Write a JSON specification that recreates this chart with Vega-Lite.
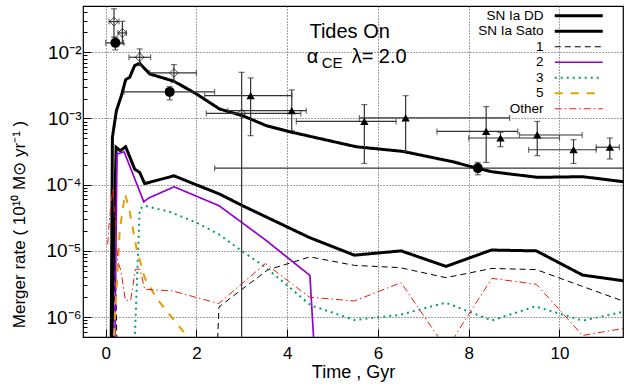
{
  "$schema": "https://vega.github.io/schema/vega-lite/v6.json",
  "width": 540,
  "height": 331,
  "autosize": {"type": "none"},
  "padding": {"left": 83, "top": 6, "right": 5, "bottom": 53},
  "background": "white",
  "config": {
    "font": "Liberation Sans",
    "view": {"stroke": "black", "strokeWidth": 1.2},
    "axis": {"labelFont": "Liberation Sans", "titleFont": "Liberation Sans", "labelColor": "black", "titleColor": "black", "titleFontWeight": "normal", "domain": false, "gridColor": "#444", "gridDash": [1, 2], "gridWidth": 1, "tickColor": "black", "labelOverlap": false},
    "legend": {"labelFont": "Liberation Sans", "labelColor": "black"}
  },
  "datasets": {
    "lines": [
      {"series": "SN Ia DD", "t": 0.12, "rate": 3e-7},
      {"series": "SN Ia DD", "t": 0.148, "rate": 5.2e-4},
      {"series": "SN Ia DD", "t": 0.236, "rate": 1.31e-3},
      {"series": "SN Ia DD", "t": 0.346, "rate": 2.21e-3},
      {"series": "SN Ia DD", "t": 0.44, "rate": 3.86e-3},
      {"series": "SN Ia DD", "t": 0.529, "rate": 4.19e-3},
      {"series": "SN Ia DD", "t": 0.639, "rate": 6.3e-3},
      {"series": "SN Ia DD", "t": 0.749, "rate": 6.82e-3},
      {"series": "SN Ia DD", "t": 0.969, "rate": 4.71e-3},
      {"series": "SN Ia DD", "t": 1.5, "rate": 3.66e-3},
      {"series": "SN Ia DD", "t": 1.99, "rate": 2.37e-3},
      {"series": "SN Ia DD", "t": 2.51, "rate": 1.39e-3},
      {"series": "SN Ia DD", "t": 3.02, "rate": 1.1e-3},
      {"series": "SN Ia DD", "t": 3.54, "rate": 7.78e-4},
      {"series": "SN Ia DD", "t": 4.05, "rate": 6.31e-4},
      {"series": "SN Ia DD", "t": 5.52, "rate": 3.74e-4},
      {"series": "SN Ia DD", "t": 6.55, "rate": 3.18e-4},
      {"series": "SN Ia DD", "t": 7.65, "rate": 2.22e-4},
      {"series": "SN Ia DD", "t": 8.17, "rate": 1.78e-4},
      {"series": "SN Ia DD", "t": 8.53, "rate": 1.56e-4},
      {"series": "SN Ia DD", "t": 9.52, "rate": 1.29e-4},
      {"series": "SN Ia DD", "t": 10.51, "rate": 1.32e-4},
      {"series": "SN Ia DD", "t": 11.5, "rate": 1.09e-4},
      {"series": "SN Ia Sato", "t": 0.13, "rate": 3e-7},
      {"series": "SN Ia Sato", "t": 0.23, "rate": 3.66e-4},
      {"series": "SN Ia Sato", "t": 0.324, "rate": 3.26e-4},
      {"series": "SN Ia Sato", "t": 0.44, "rate": 3.74e-4},
      {"series": "SN Ia Sato", "t": 0.639, "rate": 1.72e-4},
      {"series": "SN Ia Sato", "t": 0.749, "rate": 1.53e-4},
      {"series": "SN Ia Sato", "t": 0.859, "rate": 1.04e-4},
      {"series": "SN Ia Sato", "t": 1.504, "rate": 1.36e-4},
      {"series": "SN Ia Sato", "t": 2.51, "rate": 7.21e-5},
      {"series": "SN Ia Sato", "t": 3.02, "rate": 4.8e-5},
      {"series": "SN Ia Sato", "t": 4.49, "rate": 1.59e-5},
      {"series": "SN Ia Sato", "t": 5.48, "rate": 8.61e-6},
      {"series": "SN Ia Sato", "t": 6.51, "rate": 1.0e-5},
      {"series": "SN Ia Sato", "t": 7.5, "rate": 5.83e-6},
      {"series": "SN Ia Sato", "t": 8.5, "rate": 1.03e-5},
      {"series": "SN Ia Sato", "t": 9.49, "rate": 1.0e-5},
      {"series": "SN Ia Sato", "t": 10.51, "rate": 4.31e-6},
      {"series": "SN Ia Sato", "t": 11.5, "rate": 3.46e-6},
      {"series": "1", "t": 0.17, "rate": 3e-7},
      {"series": "1", "t": 0.21, "rate": 1.1e-5},
      {"series": "1", "t": 0.25, "rate": 3e-7},
      {"series": "1", "t": 2.456, "rate": 3e-7},
      {"series": "1", "t": 2.496, "rate": 1.42e-6},
      {"series": "1", "t": 2.985, "rate": 2.57e-6},
      {"series": "1", "t": 3.57, "rate": 5.15e-6},
      {"series": "1", "t": 4.5, "rate": 8.11e-6},
      {"series": "1", "t": 5.48, "rate": 6.04e-6},
      {"series": "1", "t": 6.48, "rate": 5.59e-6},
      {"series": "1", "t": 7.5, "rate": 3.94e-6},
      {"series": "1", "t": 8.51, "rate": 5.43e-6},
      {"series": "1", "t": 9.49, "rate": 5.21e-6},
      {"series": "1", "t": 10.51, "rate": 2.9e-6},
      {"series": "1", "t": 11.5, "rate": 1.65e-6},
      {"series": "2", "t": 0.2, "rate": 3e-7},
      {"series": "2", "t": 0.249, "rate": 2.9e-4},
      {"series": "2", "t": 0.407, "rate": 3.13e-4},
      {"series": "2", "t": 0.84, "rate": 5.5e-5},
      {"series": "2", "t": 0.95, "rate": 6.3e-5},
      {"series": "2", "t": 1.509, "rate": 9.29e-5},
      {"series": "2", "t": 2.5, "rate": 4.8e-5},
      {"series": "2", "t": 3.5, "rate": 1.5e-5},
      {"series": "2", "t": 4.5, "rate": 4.26e-6},
      {"series": "2", "t": 4.6, "rate": 3e-7},
      {"series": "3", "t": 0.63, "rate": 3e-7},
      {"series": "3", "t": 0.75, "rate": 4.3e-5},
      {"series": "3", "t": 0.86, "rate": 4.8e-5},
      {"series": "3", "t": 1.41, "rate": 3.89e-5},
      {"series": "3", "t": 2.0, "rate": 2.68e-5},
      {"series": "3", "t": 2.51, "rate": 1.75e-5},
      {"series": "3", "t": 2.97, "rate": 1.03e-5},
      {"series": "3", "t": 3.48, "rate": 5.93e-6},
      {"series": "3", "t": 3.99, "rate": 3.06e-6},
      {"series": "3", "t": 4.52, "rate": 1.5e-6},
      {"series": "3", "t": 5.11, "rate": 1.1e-6},
      {"series": "3", "t": 5.48, "rate": 9.03e-7},
      {"series": "3", "t": 6.48, "rate": 1.08e-6},
      {"series": "3", "t": 7.49, "rate": 1.65e-6},
      {"series": "3", "t": 8.51, "rate": 8.89e-7},
      {"series": "3", "t": 9.47, "rate": 1.45e-6},
      {"series": "3", "t": 10.51, "rate": 8.83e-7},
      {"series": "3", "t": 11.5, "rate": 1.24e-6},
      {"series": "5", "t": 0.165, "rate": 3e-7},
      {"series": "5", "t": 0.308, "rate": 2.0e-5},
      {"series": "5", "t": 0.425, "rate": 7.27e-5},
      {"series": "5", "t": 0.518, "rate": 4.31e-5},
      {"series": "5", "t": 0.676, "rate": 1.12e-5},
      {"series": "5", "t": 0.859, "rate": 3.91e-6},
      {"series": "5", "t": 1.117, "rate": 1.94e-6},
      {"series": "5", "t": 1.41, "rate": 1.08e-6},
      {"series": "5", "t": 1.81, "rate": 5.0e-7},
      {"series": "5", "t": 1.9, "rate": 3e-7},
      {"series": "Other", "t": 0.044, "rate": 1.26e-5},
      {"series": "Other", "t": 0.081, "rate": 2.85e-5},
      {"series": "Other", "t": 0.154, "rate": 8.67e-5},
      {"series": "Other", "t": 0.22, "rate": 2.39e-5},
      {"series": "Other", "t": 0.264, "rate": 7.06e-6},
      {"series": "Other", "t": 0.337, "rate": 4.98e-6},
      {"series": "Other", "t": 0.434, "rate": 1.79e-6},
      {"series": "Other", "t": 0.551, "rate": 1.79e-6},
      {"series": "Other", "t": 0.654, "rate": 5.28e-6},
      {"series": "Other", "t": 0.756, "rate": 5.28e-6},
      {"series": "Other", "t": 0.859, "rate": 2.63e-6},
      {"series": "Other", "t": 1.476, "rate": 2.48e-6},
      {"series": "Other", "t": 2.49, "rate": 1.6e-6},
      {"series": "Other", "t": 3.52, "rate": 6.43e-6},
      {"series": "Other", "t": 4.49, "rate": 2.0e-6},
      {"series": "Other", "t": 5.48, "rate": 1.75e-6},
      {"series": "Other", "t": 6.51, "rate": 3.31e-6},
      {"series": "Other", "t": 7.51, "rate": 3.28e-7},
      {"series": "Other", "t": 8.51, "rate": 3.84e-6},
      {"series": "Other", "t": 9.49, "rate": 3.13e-6},
      {"series": "Other", "t": 10.51, "rate": 5.27e-7},
      {"series": "Other", "t": 11.5, "rate": 6.92e-7}
    ],
    "obs": [
      {"kind": "diamond", "t": 0.183, "rate": 0.0291, "tlo": 0.073, "thi": 0.293, "rlo": 0.0169, "rhi": 0.0454},
      {"kind": "diamond", "t": 0.368, "rate": 0.0196, "tlo": 0.271, "thi": 0.456, "rlo": 0.0134, "rhi": 0.0294},
      {"kind": "diamond", "t": 0.749, "rate": 0.0084, "tlo": 0.513, "thi": 0.991, "rlo": 0.0063, "rhi": 0.01125},
      {"kind": "diamond", "t": 1.504, "rate": 0.00488, "tlo": 0.969, "thi": 1.998, "rlo": 0.00352, "rhi": 0.00652},
      {"kind": "diamond", "t": 2.996, "rate": 0.00119, "tlo": 2.218, "thi": 4.3, "rlo": 1e-7, "rhi": 0.00498},
      {"kind": "circle", "t": 0.214, "rate": 0.01387, "tlo": 0.0, "thi": 0.396, "rlo": 0.01087, "rhi": 0.0169},
      {"kind": "circle", "t": 1.41, "rate": 0.00252, "tlo": 0.403, "thi": 2.4, "rlo": 0.00191, "rhi": 0.00303},
      {"kind": "circle", "t": 8.2, "rate": 1.78e-4, "tlo": 2.4, "thi": 13, "rlo": 1.41e-4, "rhi": 2.17e-4},
      {"kind": "triangle", "t": 3.194, "rate": 0.00221, "tlo": 2.18, "thi": 4.1, "rlo": 5.5e-4, "rhi": 0.0041},
      {"kind": "triangle", "t": 4.1, "rate": 0.00131, "tlo": 2.69, "thi": 4.42, "rlo": 6.53e-4, "rhi": 0.0027},
      {"kind": "triangle", "t": 5.7, "rate": 9.03e-4, "tlo": 4.2, "thi": 6.4, "rlo": 2.09e-4, "rhi": 0.00162},
      {"kind": "triangle", "t": 6.61, "rate": 0.00102, "tlo": 5.59, "thi": 8.9, "rlo": 3.18e-4, "rhi": 0.00221},
      {"kind": "triangle", "t": 8.385, "rate": 6.38e-4, "tlo": 7.3, "thi": 9.08, "rlo": 2.17e-4, "rhi": 0.00151},
      {"kind": "triangle", "t": 8.7, "rate": 5.07e-4, "tlo": 8.0, "thi": 10.0, "rlo": 3.74e-4, "rhi": 6.17e-4},
      {"kind": "triangle", "t": 9.51, "rate": 5.63e-4, "tlo": 9.12, "thi": 10.5, "rlo": 2.74e-4, "rhi": 9.03e-4},
      {"kind": "triangle", "t": 10.31, "rate": 3.37e-4, "tlo": 9.32, "thi": 10.81, "rlo": 2.09e-4, "rhi": 4.78e-4},
      {"kind": "triangle", "t": 11.11, "rate": 3.68e-4, "tlo": 10.81, "thi": 11.32, "rlo": 2.44e-4, "rhi": 5.07e-4}
    ],
    "big": [
      {"t": 4.49, "rate": 0.01626, "label": "Tides On"},
      {"t": 4.43, "rate": 0.00681, "label": "α"},
      {"t": 5.42, "rate": 0.00681, "label": "λ= 2.0"}
    ],
    "small": [
      {"t": 4.76, "rate": 0.00573, "label": "CE"}
    ]
  },
  "layer": [
    {
      "data": {"name": "lines"},
      "mark": {"type": "line", "clip": true, "strokeCap": "butt", "strokeJoin": "miter"},
      "encoding": {
        "x": {"field": "t", "type": "quantitative", "scale": {"domain": [-0.5, 11.4], "nice": false, "zero": false},
          "axis": {"values": [0, 2, 4, 6, 8, 10], "grid": true, "tickSize": -8, "labelFontSize": 17, "labelPadding": 16, "title": "Time , Gyr", "titleFontSize": 18, "titlePadding": 2}},
        "y": {"field": "rate", "type": "quantitative", "scale": {"type": "log", "domain": [5e-7, 0.05], "nice": false},
          "axis": {
            "values": [6e-7, 7e-7, 8e-7, 9e-7, 1e-6, 2e-6, 3e-6, 4e-6, 5e-6, 6e-6, 7e-6, 8e-6, 9e-6, 1e-5, 2e-5, 3e-5, 4e-5, 5e-5, 6e-5, 7e-5, 8e-5, 9e-5, 1e-4, 2e-4, 3e-4, 4e-4, 5e-4, 6e-4, 7e-4, 8e-4, 9e-4, 1e-3, 2e-3, 3e-3, 4e-3, 5e-3, 6e-3, 7e-3, 8e-3, 9e-3, 1e-2, 2e-2, 3e-2, 4e-2],
            "labelExpr": "datum.value == 1e-6 ? '10⁻⁶' : datum.value == 1e-5 ? '10⁻⁵' : datum.value == 1e-4 ? '10⁻⁴' : datum.value == 1e-3 ? '10⁻³' : datum.value == 1e-2 ? '10⁻²' : ''",
            "grid": true,
            "gridOpacity": {"condition": {"test": "abs(log(datum.value)/LN10 - round(log(datum.value)/LN10)) < 0.001", "value": 1}, "value": 0},
            "tickSize": {"condition": {"test": "abs(log(datum.value)/LN10 - round(log(datum.value)/LN10)) < 0.001", "value": -8}, "value": -4},
            "labelFontSize": 19, "labelPadding": 10,
            "title": "Merger rate ( 10¹⁰ M⊙ yr⁻¹ )", "titleFontSize": 17, "titleX": -59, "titleY": 218, "titleBaseline": "alphabetic", "titleAlign": "center"
          }},
        "color": {"field": "series", "type": "nominal",
          "scale": {"domain": ["SN Ia DD", "SN Ia Sato", "1", "2", "3", "5", "Other"], "range": ["#000000", "#000000", "#000000", "#9400d3", "#009e73", "#e69f00", "#e51e10"]},
          "legend": {"title": null, "orient": "none", "legendX": 489, "legendY": 3, "symbolType": "stroke", "symbolSize": 2304, "labelAlign": "right", "labelOffset": -42, "labelFontSize": 13.5, "rowPadding": 0.5, "padding": 0, "labelLimit": 200,
            "symbolStrokeWidth": {"expr": "datum.value == 'SN Ia DD' || datum.value == 'SN Ia Sato' ? 3 : datum.value == '3' ? 2 : datum.value == '5' ? 2 : datum.value == '2' ? 1.7 : 1"}}},
        "strokeDash": {"field": "series", "type": "nominal",
          "scale": {"domain": ["SN Ia DD", "SN Ia Sato", "1", "2", "3", "5", "Other"], "range": [[1, 0], [1, 0], [6, 4], [1, 0], [2, 4], [8, 8], [7, 3, 1.5, 3]]}},
        "strokeWidth": {"condition": [
          {"test": "datum.series == 'SN Ia DD' || datum.series == 'SN Ia Sato'", "value": 3},
          {"test": "datum.series == '3'", "value": 2},
          {"test": "datum.series == '5'", "value": 2},
          {"test": "datum.series == '2'", "value": 1.7}
        ], "value": 1}
      }
    },
    {
      "data": {"name": "obs"},
      "mark": {"type": "rule", "clip": true, "color": "#333", "strokeWidth": 1.2},
      "encoding": {
        "x": {"field": "t", "type": "quantitative", "scale": {"domain": [-0.5, 11.4], "nice": false, "zero": false}},
        "y": {"field": "rlo", "type": "quantitative", "scale": {"type": "log", "domain": [5e-7, 0.05], "nice": false}},
        "y2": {"field": "rhi"}
      }
    },
    {
      "data": {"name": "obs"},
      "mark": {"type": "rule", "clip": true, "color": "#333", "strokeWidth": 1.2},
      "encoding": {
        "x": {"field": "tlo", "type": "quantitative", "scale": {"domain": [-0.5, 11.4], "nice": false, "zero": false}},
        "x2": {"field": "thi"},
        "y": {"field": "rate", "type": "quantitative", "scale": {"type": "log", "domain": [5e-7, 0.05], "nice": false}}
      }
    },
    {
      "data": {"name": "obs"},
      "mark": {"type": "tick", "clip": true, "orient": "horizontal", "color": "#333", "size": 6, "thickness": 1.2},
      "encoding": {
        "x": {"field": "t", "type": "quantitative", "scale": {"domain": [-0.5, 11.4], "nice": false, "zero": false}},
        "y": {"field": "rlo", "type": "quantitative", "scale": {"type": "log", "domain": [5e-7, 0.05], "nice": false}}
      }
    },
    {
      "data": {"name": "obs"},
      "mark": {"type": "tick", "clip": true, "orient": "horizontal", "color": "#333", "size": 6, "thickness": 1.2},
      "encoding": {
        "x": {"field": "t", "type": "quantitative", "scale": {"domain": [-0.5, 11.4], "nice": false, "zero": false}},
        "y": {"field": "rhi", "type": "quantitative", "scale": {"type": "log", "domain": [5e-7, 0.05], "nice": false}}
      }
    },
    {
      "data": {"name": "obs"},
      "mark": {"type": "tick", "clip": true, "orient": "vertical", "color": "#333", "size": 6, "thickness": 1.2},
      "encoding": {
        "x": {"field": "tlo", "type": "quantitative", "scale": {"domain": [-0.5, 11.4], "nice": false, "zero": false}},
        "y": {"field": "rate", "type": "quantitative", "scale": {"type": "log", "domain": [5e-7, 0.05], "nice": false}}
      }
    },
    {
      "data": {"name": "obs"},
      "mark": {"type": "tick", "clip": true, "orient": "vertical", "color": "#333", "size": 6, "thickness": 1.2},
      "encoding": {
        "x": {"field": "thi", "type": "quantitative", "scale": {"domain": [-0.5, 11.4], "nice": false, "zero": false}},
        "y": {"field": "rate", "type": "quantitative", "scale": {"type": "log", "domain": [5e-7, 0.05], "nice": false}}
      }
    },
    {
      "data": {"name": "obs"},
      "transform": [{"filter": "datum.kind == 'diamond'"}],
      "mark": {"type": "point", "shape": "diamond", "filled": false, "color": "black", "strokeWidth": 1, "size": 75, "clip": true},
      "encoding": {
        "x": {"field": "t", "type": "quantitative", "scale": {"domain": [-0.5, 11.4], "nice": false, "zero": false}},
        "y": {"field": "rate", "type": "quantitative", "scale": {"type": "log", "domain": [5e-7, 0.05], "nice": false}}
      }
    },
    {
      "data": {"name": "obs"},
      "transform": [{"filter": "datum.kind == 'circle'"}],
      "mark": {"type": "point", "shape": "circle", "filled": true, "color": "black", "opacity": 1, "size": 100, "clip": true},
      "encoding": {
        "x": {"field": "t", "type": "quantitative", "scale": {"domain": [-0.5, 11.4], "nice": false, "zero": false}},
        "y": {"field": "rate", "type": "quantitative", "scale": {"type": "log", "domain": [5e-7, 0.05], "nice": false}}
      }
    },
    {
      "data": {"name": "obs"},
      "transform": [{"filter": "datum.kind == 'triangle'"}],
      "mark": {"type": "point", "shape": "triangle-up", "filled": true, "color": "black", "opacity": 1, "size": 70, "clip": true},
      "encoding": {
        "x": {"field": "t", "type": "quantitative", "scale": {"domain": [-0.5, 11.4], "nice": false, "zero": false}},
        "y": {"field": "rate", "type": "quantitative", "scale": {"type": "log", "domain": [5e-7, 0.05], "nice": false}}
      }
    },
    {
      "data": {"name": "big"},
      "mark": {"type": "text", "align": "left", "baseline": "alphabetic", "fontSize": 20, "color": "black", "font": "Liberation Sans"},
      "encoding": {
        "x": {"field": "t", "type": "quantitative", "scale": {"domain": [-0.5, 11.4], "nice": false, "zero": false}},
        "y": {"field": "rate", "type": "quantitative", "scale": {"type": "log", "domain": [5e-7, 0.05], "nice": false}},
        "text": {"field": "label"}
      }
    },
    {
      "data": {"name": "small"},
      "mark": {"type": "text", "align": "left", "baseline": "alphabetic", "fontSize": 15, "color": "black", "font": "Liberation Sans"},
      "encoding": {
        "x": {"field": "t", "type": "quantitative", "scale": {"domain": [-0.5, 11.4], "nice": false, "zero": false}},
        "y": {"field": "rate", "type": "quantitative", "scale": {"type": "log", "domain": [5e-7, 0.05], "nice": false}},
        "text": {"field": "label"}
      }
    }
  ]
}
